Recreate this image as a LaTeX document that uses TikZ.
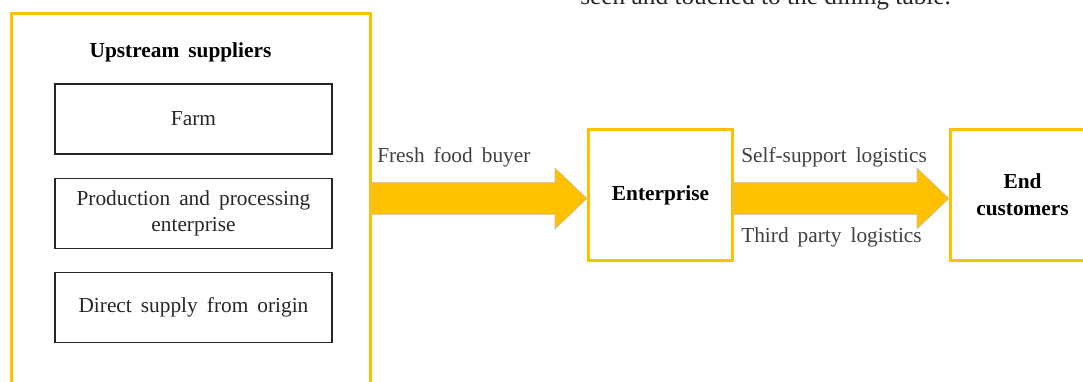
\documentclass[tikz,border=0pt]{standalone}
\usepackage{fontspec}
\setmainfont{Liberation Serif}[WordSpace=1.7]
\newfontfamily\runningfont{Liberation Serif}
\usepackage{tikz}
\usetikzlibrary{positioning,calc}
\definecolor{gold}{HTML}{FFC000}
\definecolor{ink}{HTML}{262626}
\definecolor{note}{HTML}{404040}
% block arrow from the east side of #1 to the west side of #2
\newcommand\flowarrow[2]{%
  \draw[flow] let \p1=(#1.east), \p2=(#2.west) in
    (\x1,\y2+9.4pt) -- (\x2-24pt,\y2+9.4pt) -- (\x2-24pt,\y2+20.3pt) -- (\x2,\y2-2.6pt)
    -- (\x2-24pt,\y2-25.5pt) -- (\x2-24pt,\y2-14.6pt) -- (\x1,\y2-14.6pt) -- cycle;}

\begin{document}
\begin{tikzpicture}[x=0.75pt,y=0.75pt,font=\fontsize{16}{20}\selectfont,
  frame/.style={draw=gold,line width=2.25pt,inner sep=0pt},
  item/.style={draw=ink,line width=1pt,minimum width=207.75pt,minimum height=52.5pt,align=center,text=ink,inner sep=2pt},
  lab/.style={text=note,inner sep=0pt,anchor=west},
  bold/.style={font=\fontsize{16}{20}\selectfont\bfseries},
  flow/.style={fill=gold,draw=black!25,line width=0.4pt}]
\useasboundingbox (0,0) rectangle (1083,-382);
\clip (0,0) rectangle (1083,-382);
% the sentence running above
\node[anchor=base west,inner sep=0pt,font=\runningfont\fontsize{19}{22}\selectfont,text=ink] (tail) at (580,-4.7) {seen and touched to the dining table.};
% left column: upstream suppliers
\node[frame,minimum width=269.25pt,minimum height=305pt] (upstream) at (190.9,-216.7) {};
\node[bold] (uphead) at (180.5,-52) {Upstream suppliers};
\node[item] (farm) at (193.5,-119) {Farm};
\node[item,below=17.25pt of farm] (proc) {Production and processing\\enterprise};
\node[item,below=17.25pt of proc] (direct) {Direct supply from origin};
% enterprise and customers
\node[frame,bold,minimum width=108pt,minimum height=98.25pt] (ent) at (660.5,-195) {Enterprise};
\node[frame,bold,minimum width=108pt,minimum height=98.25pt,align=center] (cust) at (1022.5,-195) {End\\customers};
% arrows and their labels
\flowarrow{upstream}{ent}
\flowarrow{ent}{cust}
\node[lab] (buyer) at (377,-157) {Fresh food buyer};
\node[lab] (self) at (741,-157) {Self-support logistics};
\node[lab] (third) at (741,-237) {Third party logistics};
\end{tikzpicture}
\end{document}
